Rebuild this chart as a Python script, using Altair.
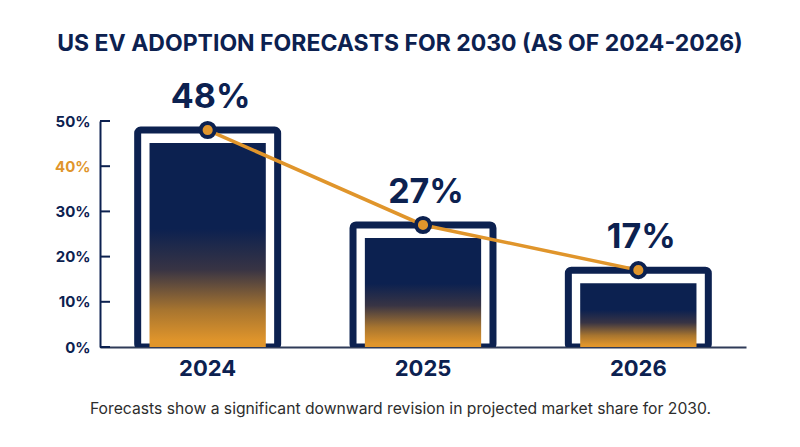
import altair as alt
import pandas as pd

years = ["2024", "2025", "2026"]
forecast = [48, 27, 17]
tick_values = [0, 10, 20, 30, 40, 50]

title_text = "US EV ADOPTION FORECASTS FOR 2030 (AS OF 2024-2026)"
caption_text = "Forecasts show a significant downward revision in projected market share for 2030."

NAVY = "#0c2150"
ORANGE = "#e0952b"
FONT = "Inter"

df = pd.DataFrame({"year": years, "value": forecast})
ticks_df = pd.DataFrame({"value": tick_values})

x_enc = alt.X(
    "year:N",
    sort=years,
    scale=alt.Scale(paddingInner=0, paddingOuter=0),
    axis=alt.Axis(
        title=caption_text,
        titleX=300,
        titleY=66,
        titleAlign="center",
        titleBaseline="alphabetic",
        titleFont=FONT,
        titleFontSize=15.7,
        titleFontWeight="normal",
        titleColor="#2d2d2d",
        labelFont=FONT,
        labelFontSize=22,
        labelFontWeight="bold",
        labelColor=NAVY,
        labelPadding=11,
        labelAngle=0,
        ticks=False,
        domainColor="#2f3b58",
        domainWidth=2,
        grid=False,
    ),
)
y_scale = alt.Scale(domain=[0, 50], nice=False, zero=True)
y_axis = alt.Axis(
    title=None,
    values=tick_values,
    labelExpr="datum.value + '%'",
    labelFont=FONT,
    labelFontSize=15,
    labelFontWeight="bold",
    labelColor=alt.ExprRef(expr=f"datum.value == 40 ? '{ORANGE}' : '{NAVY}'"),
    labelPadding=10,
    ticks=False,
    domainColor=NAVY,
    domainWidth=2,
    grid=False,
)
y_enc = alt.Y("value:Q", scale=y_scale, stack=None, axis=y_axis)

base = alt.Chart(df)

outer = base.mark_bar(
    width=alt.RelativeBandSize(0.65),
    fill="white",
    stroke=NAVY,
    strokeWidth=7,
    cornerRadius=3,
    clip=True,
    y2Offset=5,
).encode(x=x_enc, y=y_enc)

grad = alt.Gradient(
    gradient="linear",
    x1=0, x2=0, y1=0, y2=1,
    stops=[
        alt.GradientStop(offset=0, color=NAVY),
        alt.GradientStop(offset=0.42, color=NAVY),
        alt.GradientStop(offset=0.62, color="#383444"),
        alt.GradientStop(offset=0.82, color="#a8752f"),
        alt.GradientStop(offset=0.97, color=ORANGE),
        alt.GradientStop(offset=1, color=ORANGE),
    ],
)
inner = base.mark_bar(
    width=alt.RelativeBandSize(0.54),
    color=grad,
    yOffset=13,
).encode(x=x_enc, y=y_enc)

tick_marks = alt.Chart(ticks_df).mark_rule(color=NAVY, strokeWidth=2).encode(
    y=y_enc,
    x=alt.value(0),
    x2=alt.value(10),
)

line = base.mark_line(color=ORANGE, strokeWidth=3.5).encode(x=x_enc, y=y_enc)
points = base.mark_circle(
    size=200, color=ORANGE, stroke=NAVY, strokeWidth=4, opacity=1
).encode(x=x_enc, y=y_enc)

labels = base.mark_text(
    font=FONT, fontSize=34, fontWeight="bold", color=NAVY,
    baseline="alphabetic", dy=-22, dx=3,
).encode(x=x_enc, y=y_enc, text=alt.Text("label:N")).transform_calculate(
    label="datum.value + '%'"
)

chart = alt.layer(outer, inner, tick_marks, line, points, labels).properties(
    width=646,
    height=226,
    padding={"left": 92, "top": 113, "right": 46, "bottom": 92},
    autosize=alt.AutoSizeParams(type="none"),
    background="white",
    title=alt.TitleParams(
        text=title_text,
        anchor="middle",
        frame="group",
        dx=-23,
        offset=25,
        font=FONT,
        fontSize=23,
        fontWeight="bold",
        color=NAVY,
    ),
).configure_view(stroke=None)

chart.save("out.html", embed_options={"renderer": "svg", "actions": False})
